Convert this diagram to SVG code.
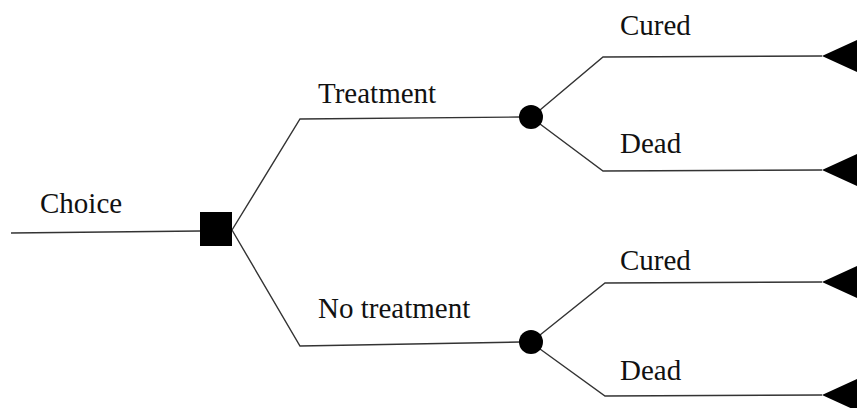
<svg xmlns="http://www.w3.org/2000/svg" width="857" height="408" viewBox="0 0 857 408">
<style>
.l{stroke:#333;stroke-width:1.4;fill:none}
.t{font-family:"Liberation Serif","Times New Roman",serif;font-size:29px;fill:#111}
.n{fill:#000}
</style>
<rect width="857" height="408" fill="#fff"/>
<g id="connectors">
<polyline class="l" points="11,233 200,231"/>
<polyline class="l" points="232,230 300,119 520,117"/>
<polyline class="l" points="232,230 300,346 520,342"/>
<polyline class="l" points="540,110 603,57 822,56"/>
<polyline class="l" points="540,124 603,171 822,170"/>
<polyline class="l" points="540,335 605,283 822,282"/>
<polyline class="l" points="540,349 605,396 822,395"/>
</g>
<g id="choice-label"><text class="t" x="40" y="213">Choice</text></g>
<g id="decision"><rect class="n" x="200" y="212" width="32" height="34"/></g>
<g id="treatment-label"><text class="t" x="318" y="103">Treatment</text></g>
<g id="notreatment-label"><text class="t" x="318" y="318">No treatment</text></g>
<g id="chance1"><circle class="n" cx="531" cy="117" r="12"/></g>
<g id="chance2"><circle class="n" cx="531" cy="342" r="12"/></g>
<g id="cured1"><text class="t" x="620" y="35">Cured</text><polygon class="n" points="822,56 857,40 857,72"/></g>
<g id="dead1"><text class="t" x="620" y="153">Dead</text><polygon class="n" points="822,170 857,154 857,186"/></g>
<g id="cured2"><text class="t" x="620" y="270">Cured</text><polygon class="n" points="822,282 857,266 857,298"/></g>
<g id="dead2"><text class="t" x="620" y="380">Dead</text><polygon class="n" points="822,395 857,379 857,411"/></g>
</svg>
